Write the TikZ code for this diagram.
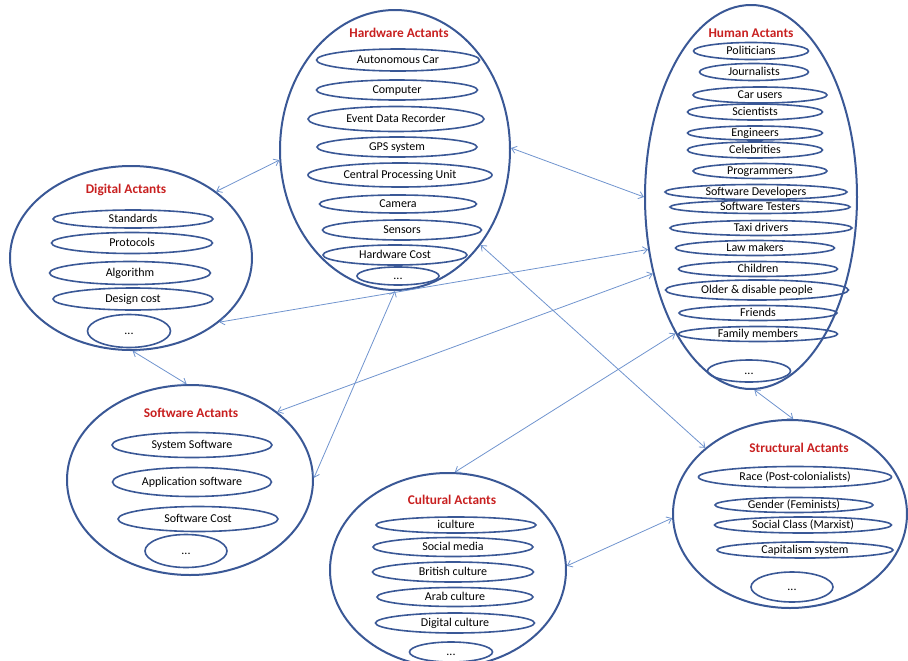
\documentclass[tikz,border=0pt]{standalone}
\usepackage{fontspec}
\setmainfont{Carlito}
\usetikzlibrary{shapes.geometric,arrows.meta}

\definecolor{ringblue}{RGB}{58,88,150}
\definecolor{linkblue}{RGB}{112,148,206}
\definecolor{titlered}{RGB}{200,32,32}

\begin{document}
\begin{tikzpicture}[x = 0.75pt, y = -0.75pt, >={Straight Barb[length = 3.5pt, width = 5.5pt]}, font = \fontsize{9}{10}\selectfont]
    \useasboundingbox (0, 0) rectangle (908, 661);

    \tikzstyle{actant} = [ellipse, draw = ringblue, line width = 1.5pt, inner sep = 0pt]
    \tikzstyle{member} = [ellipse, draw = ringblue, line width = 1.2pt, inner sep = 0pt, text height = 5pt, text depth = 0pt]
    \tikzstyle{heading} = [text = titlered, font = \fontsize{10}{11}\selectfont\bfseries]
    \tikzstyle{relation} = [<->, draw = linkblue, line width = 0.6pt]
    \tikzset{wh/.style 2 args = {minimum width = #1*0.75pt, minimum height = #2*0.75pt}}

    % hardware
    \node[actant, wh = {230}{280}] (hw) at (395, 150) {};
    \node[heading] (hwtitle) at (399, 33) {Hardware Actants};
    \node[member, wh = {163}{22}] (hw1) at (398, 60) {Autonomous Car};
    \node[member, wh = {161}{20}] (hw2) at (397, 90) {Computer};
    \node[member, wh = {176}{25}] (hw3) at (396, 119) {Event Data Recorder};
    \node[member, wh = {160}{20}] (hw4) at (397, 147) {GPS system};
    \node[member, wh = {184}{24}] (hw5) at (400, 175) {Central Processing Unit};
    \node[member, wh = {157}{18}] (hw6) at (398, 204) {Camera};
    \node[member, wh = {159}{20}] (hw7) at (402, 230) {Sensors};
    \node[member, wh = {144}{20}] (hw8) at (395, 255) {Hardware Cost};
    \node[member, wh = {82}{18}] (hw9) at (398, 276) {...};

    % human
    \node[actant, wh = {212}{384}] (hu) at (751, 197) {};
    \node[heading] (hutitle) at (751, 33) {Human Actants};
    \node[member, wh = {115}{17}] (hu1) at (751, 51) {Politicians};
    \node[member, wh = {109}{17}] (hu2) at (754, 72) {Journalists};
    \node[member, wh = {134}{16}] (hu3) at (760, 95) {Car users};
    \node[member, wh = {135}{16}] (hu4) at (755, 112) {Scientists};
    \node[member, wh = {135}{14}] (hu5) at (755, 133) {Engineers};
    \node[member, wh = {135}{16}] (hu6) at (755, 150) {Celebrities};
    \node[member, wh = {134}{15}] (hu7) at (760, 171) {Programmers};
    \node[member, wh = {182}{15}] (hu8) at (756, 192) {Software Developers};
    \node[member, wh = {180}{13}] (hu9) at (760, 207) {Software Testers};
    \node[member, wh = {182}{15}] (hu10) at (761, 228) {Taxi drivers};
    \node[member, wh = {159}{15}] (hu11) at (755, 248) {Law makers};
    \node[member, wh = {159}{15}] (hu12) at (758, 269) {Children};
    \node[member, wh = {183}{20}] (hu13) at (757, 290) {Older \& disable people};
    \node[member, wh = {158}{15}] (hu14) at (758, 313) {Friends};
    \node[member, wh = {159}{15}] (hu15) at (758, 334) {Family members};
    \node[member, wh = {83}{22}] (hu16) at (749, 371) {...};

    % digital
    \node[actant, wh = {242}{184}] (dg) at (131, 258) {};
    \node[heading] (dgtitle) at (126, 190) {Digital Actants};
    \node[member, wh = {160}{18}] (dg1) at (133, 219) {Standards};
    \node[member, wh = {161}{21}] (dg2) at (132, 243) {Protocols};
    \node[member, wh = {161}{23}] (dg3) at (130, 273) {Algorithm};
    \node[member, wh = {160}{22}] (dg4) at (133, 299) {Design cost};
    \node[member, wh = {83}{33}] (dg5) at (129, 331) {...};

    % software
    \node[actant, wh = {246}{190}] (sw) at (190, 480) {};
    \node[heading] (swtitle) at (191, 413) {Software Actants};
    \node[member, wh = {160}{25}] (sw1) at (192, 445) {System Software};
    \node[member, wh = {159}{29}] (sw2) at (192, 482) {Application software};
    \node[member, wh = {160}{25}] (sw3) at (198, 519) {Software Cost};
    \node[member, wh = {82}{33}] (sw4) at (186, 551) {...};

    % cultural
    \node[actant, wh = {236}{194}] (cu) at (448, 570) {};
    \node[heading] (cutitle) at (452, 500) {Cultural Actants};
    \node[member, wh = {160}{16}] (cu1) at (456, 525) {iculture};
    \node[member, wh = {160}{19}] (cu2) at (453, 547) {Social media};
    \node[member, wh = {161}{20}] (cu3) at (453, 572) {British culture};
    \node[member, wh = {156}{19}] (cu4) at (455, 597) {Arab culture};
    \node[member, wh = {159}{20}] (cu5) at (455, 623) {Digital culture};
    \node[member, wh = {83}{20}] (cu6) at (451, 652) {...};

    % structural
    \node[actant, wh = {234}{188}] (st) at (790, 514) {};
    \node[heading] (sttitle) at (799, 448) {Structural Actants};
    \node[member, wh = {193}{21}] (st1) at (795, 477) {Race (Post-colonialists)};
    \node[member, wh = {158}{15}] (st2) at (794, 505) {Gender (Feminists)};
    \node[member, wh = {177}{16}] (st3) at (803, 525) {Social Class (Marxist)};
    \node[member, wh = {176}{16}] (st4) at (805, 550) {Capitalism system};
    \node[member, wh = {82}{30}] (st5) at (792, 587) {...};

    % links
    \draw[relation] (dg.38) -- (hw.185);
    \draw[relation] (hw.1) -- (hu.180);
    \draw[relation] (dg.-36) -- (hu.207);
    \draw[relation] (sw.38) -- (hu.218);
    \draw[relation] (hw.-90) -- (sw.1);
    \draw[relation] (hw.-48) -- (st.142);
    \draw[relation] (hu.241) -- (cu.86);
    \draw[relation] (hu.-89) -- (st.88);
    \draw[relation] (dg.-89) -- (sw.92);
    \draw[relation] (cu.2) -- (st.182);
\end{tikzpicture}
\end{document}
